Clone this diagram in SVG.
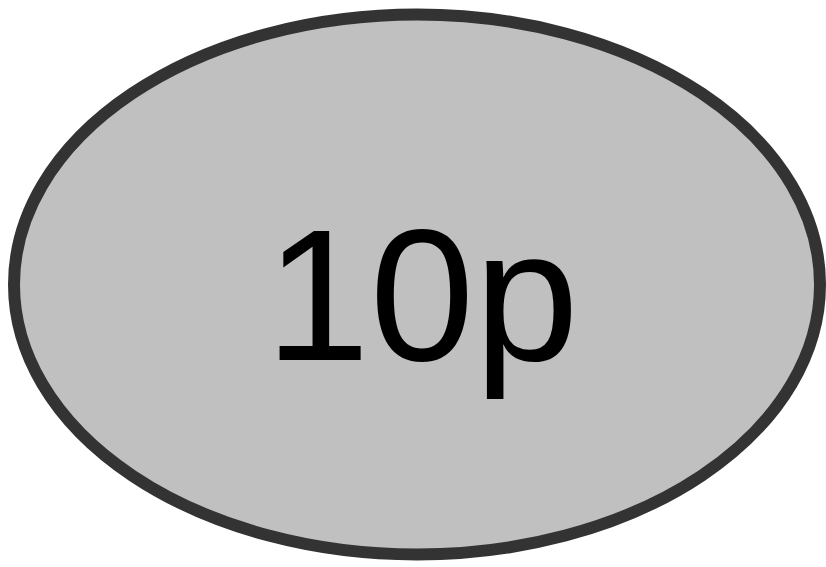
<svg xmlns="http://www.w3.org/2000/svg" width="826" height="567" viewBox="0 0 826 567">
<style>
.node{fill:#c0c0c0;stroke:#333333;stroke-width:12}
.label{font-size:188px;fill:#000000;text-anchor:middle}
</style>
<rect width="826" height="567" fill="#ffffff"/>
<g id="connectors"></g>
<g id="node-10p">
<ellipse class="node" cx="417" cy="284.5" rx="403" ry="270"/>
<text class="label" x="422" y="360" font-family="Liberation Sans, Arimo, Helvetica, sans-serif">10p</text>
</g>
</svg>
